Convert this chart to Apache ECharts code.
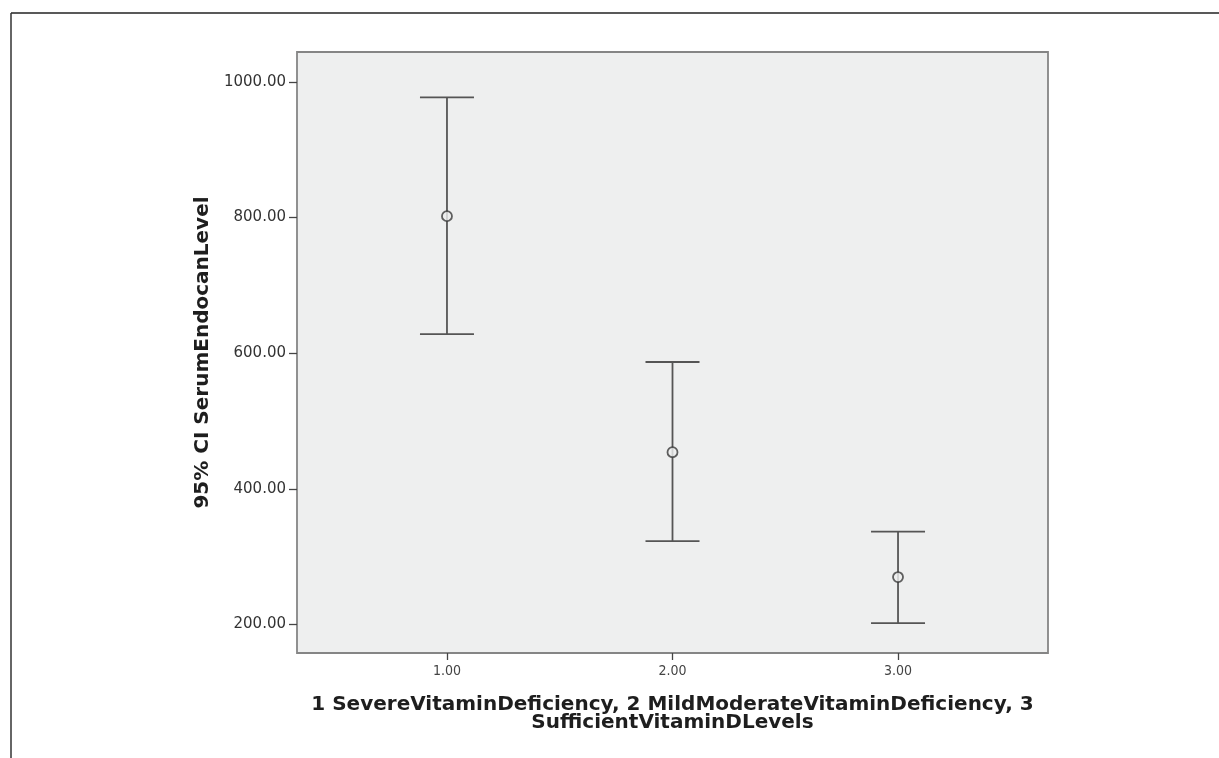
<!DOCTYPE html>
<html>
<head>
<meta charset="utf-8">
<script src="https://cdn.jsdelivr.net/npm/echarts@6/dist/echarts.min.js"></script>
<style>
html,body{margin:0;padding:0;background:#fff;}
#chart{width:1219px;height:758px;}
</style>
</head>
<body>
<div id="chart"></div>
<script>
var groups = [1, 2, 3];
var means = [802, 454, 270];
var lowerCI = [628, 323, 202];
var upperCI = [977, 587, 337];
var yTicks = [200, 400, 600, 800, 1000];
var xTicks = [1, 2, 3];
var yTitle = '95% CI SerumEndocanLevel';
var xTitle = '1 SevereVitaminDeficiency, 2 MildModerateVitaminDeficiency, 3\nSufficientVitaminDLevels';

var chart = echarts.init(document.getElementById('chart'), null, {renderer: 'canvas'});

var barData = groups.map(function (g, i) { return [g, lowerCI[i], upperCI[i]]; });
var meanData = groups.map(function (g, i) { return [g, means[i]]; });

var lineColor = '#555555';

chart.setOption({
  animation: false,
  backgroundColor: '#ffffff',
  graphic: [
    {type: 'line', shape: {x1: 11, y1: 13, x2: 1219, y2: 13}, style: {stroke: '#222', lineWidth: 1.5}},
    {type: 'line', shape: {x1: 11, y1: 13, x2: 11, y2: 758}, style: {stroke: '#333', lineWidth: 1.5}}
  ],
  grid: {
    left: 297, right: 171, top: 52, bottom: 105,
    show: true, backgroundColor: '#eeefef', borderColor: '#858585', borderWidth: 1.8
  },
  xAxis: {
    type: 'value',
    min: 0.335, max: 3.665,
    name: xTitle,
    nameLocation: 'middle',
    nameGap: 43,
    nameTextStyle: {fontFamily: 'DejaVu Sans', fontWeight: 'bold', fontSize: 20, color: '#1e1e1e', lineHeight: 18},
    axisLine: {show: false},
    axisTick: {show: true, customValues: xTicks, length: 7, lineStyle: {color: '#444', width: 1.3}},
    axisLabel: {show: true, customValues: xTicks, margin: 11, fontFamily: 'DejaVu Sans Condensed', fontSize: 14, color: '#444',
      formatter: function (v) { return v.toFixed(2); }},
    splitLine: {show: false}
  },
  yAxis: {
    type: 'value',
    min: 158, max: 1044,
    name: yTitle,
    nameLocation: 'middle',
    nameGap: 83,
    nameRotate: 90,
    nameTextStyle: {fontFamily: 'DejaVu Sans', fontWeight: 'bold', fontSize: 20, color: '#1e1e1e'},
    axisLine: {show: false},
    axisTick: {show: true, customValues: yTicks, length: 8, lineStyle: {color: '#444', width: 1.3}},
    axisLabel: {show: true, customValues: yTicks, margin: 11, fontFamily: 'DejaVu Sans', fontSize: 15, color: '#333',
      formatter: function (v) { return v.toFixed(2); }},
    splitLine: {show: false}
  },
  series: [
    {
      type: 'custom',
      data: barData,
      encode: {x: 0, y: [1, 2]},
      renderItem: function (params, api) {
        var x = api.value(0);
        var lo = api.coord([x, api.value(1)]);
        var hi = api.coord([x, api.value(2)]);
        var hw = 27;
        var st = {stroke: lineColor, lineWidth: 1.8, fill: null};
        return {
          type: 'group',
          children: [
            {type: 'line', shape: {x1: lo[0], y1: lo[1], x2: hi[0], y2: hi[1]}, style: st},
            {type: 'line', shape: {x1: hi[0] - hw, y1: hi[1], x2: hi[0] + hw, y2: hi[1]}, style: st},
            {type: 'line', shape: {x1: lo[0] - hw, y1: lo[1], x2: lo[0] + hw, y2: lo[1]}, style: st}
          ]
        };
      },
      z: 2
    },
    {
      type: 'scatter',
      data: meanData,
      symbol: 'circle',
      symbolSize: 10,
      itemStyle: {color: '#eeefef', borderColor: '#3a3a3a', borderWidth: 1.8},
      z: 3
    }
  ]
});
</script>
</body>
</html>
